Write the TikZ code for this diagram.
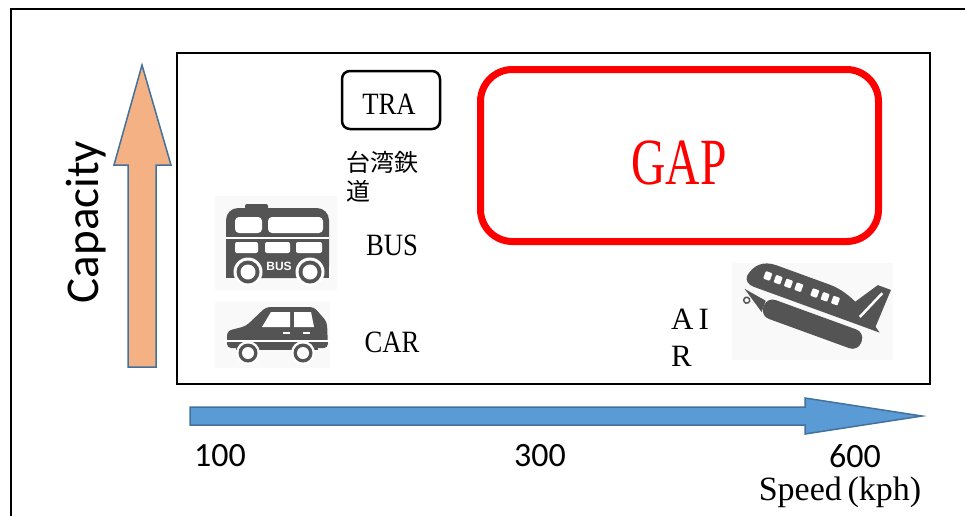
\documentclass[tikz,border=0pt]{standalone}
\usepackage{graphicx}
\usepackage{fontspec}
\setmainfont{Liberation Serif}
\newfontfamily\calibri{Carlito}
\newfontfamily\cjk{Noto Sans CJK JP}
\newfontfamily\iconsans{Liberation Sans}
\definecolor{capfill}{RGB}{244,177,131}
\definecolor{spdfill}{RGB}{91,155,213}
\definecolor{arredge}{RGB}{65,113,156}
\definecolor{icongray}{RGB}{84,84,84}
\definecolor{iconbg}{RGB}{249,249,249}
\definecolor{gapred}{RGB}{255,0,0}
% narrow latin letters
\newcommand{\mincho}[2][0.86]{\scalebox{#1}[1]{#2}}
\newcommand{\wheel}[2]{%
  \fill[white](#1,#2)circle(14.5);
  \fill[icongray](#1,#2)circle(11.5);
  \fill[white](#1,#2)circle(7.5);
}
\newcommand{\busicon}{%
  \fill[iconbg](215,196)rectangle(337,290);
  \fill[icongray,rounded corners=12](226,208)rectangle(329,278);
  \fill[icongray](226,240)rectangle(329,278);
  \fill[icongray,rounded corners=2](245,204)rectangle(268,211);
  \fill[white,rounded corners=4](235,217)rectangle(262,233);
  \fill[white,rounded corners=4](268,217)rectangle(323,233);
  \fill[white](226,237)rectangle(329,239);
  \fill[white,rounded corners=2](235,242)rectangle(258,253);
  \fill[white,rounded corners=2](265,242)rectangle(290,253);
  \fill[white,rounded corners=2](296,242)rectangle(322,253);
  \wheel{248}{272}
  \wheel{310}{272}
  \node[text=white,inner sep=0pt,font=\iconsans\bfseries\fontsize{12}{12}\selectfont] (busmark) at (279,266) {BUS};
}
\newcommand{\caricon}{%
  \fill[iconbg](215,302)rectangle(330,368);
  \fill[icongray,rounded corners=4](227,348)--(227,331)--(246,326)--(266,307)--(314,307)--(327,322)--(328,348)--cycle;
  \fill[white](262,327)--(271,312)--(290,312)--(290,327)--cycle;
  \fill[white](294,312)--(311,312)--(314,327)--(294,327)--cycle;
  \fill[white](283,332)rectangle(290,334);
  \fill[white](303,332)rectangle(310,334);
  \fill[white](225,340)rectangle(330,342);
  \fill[icongray](236,342)rectangle(318,350);
  \fill[white](248,353)circle(12);
  \fill[icongray](248,353)circle(9.5);
  \fill[white](248,353)circle(6);
  \fill[white](303,353)circle(12);
  \fill[icongray](303,353)circle(9.5);
  \fill[white](303,353)circle(6);
}
\newcommand{\planeicon}{%
  \fill[iconbg](732,263)rectangle(893,360);
  \begin{scope}[shift={(812,308)},rotate=-20]
    % body
    \fill[icongray](-72,-8) .. controls (-70,-20) and (-62,-28) .. (-48,-28) -- (8,-28)
      .. controls (32,-28) and (52,-14) .. (72,0) -- (-62,0) .. controls (-68,0) and (-72,-3) .. cycle;
    \foreach \wx in {-56,-45,-34,-23,-6,5,16}{%
      \fill[white,rounded corners=1](\wx,-19)rectangle(\wx+7,-11);
    }
    % fin
    \fill[icongray](34,-14)--(54,-44)--(68,-44)--(66,-2)--cycle;
    \draw[white,line width=2.5](48,-8)--(61,-38);
    % engine
    \fill[icongray,rounded corners=9](-46,5)rectangle(58,25);
    \fill[icongray](-46,9)--(-70,5)--(-46,21)--cycle;
    \draw[icongray,line width=1.5](-64,15)circle(3);
  \end{scope}
}
\begin{document}
\begin{tikzpicture}[x=1pt,y=-1pt,
  lbl/.style={inner sep=0pt,font=\fontsize{31}{31}\selectfont},
  num/.style={inner sep=0pt,font=\calibri\fontsize{34}{34}\selectfont}]
  \useasboundingbox(0,0)rectangle(965,515);
  % frames
  \draw[line width=2.5](11,530)--(11,9)--(980,9);
  \draw[line width=2](177,53)rectangle(930,384);
  % axes
  \fill[capfill,draw=arredge,line width=1.5](128,367)--(128,165)--(114,165)--(142,65)--(171,165)--(156,165)--(156,367)--cycle;
  \fill[spdfill,draw=arredge,line width=1.5](190,407)--(805,407)--(805,398)--(922,416)--(805,434)--(805,425)--(190,425)--cycle;
  \node[inner sep=0pt,rotate=90,font=\calibri\fontsize{47}{47}\selectfont] (capacity) at (86,222) {Capacity};
  \node[num] (v100) at (220,456) {100};
  \node[num] (v300) at (540,456) {300};
  \node[num] (v600) at (855,456) {600};
  \node[lbl,font=\fontsize{34}{34}\selectfont] (speed) at (840,492) {Speed\,(kph)};
  % boxes
  \node[draw,line width=2.5,rounded corners=8,minimum width=98,minimum height=58,inner sep=0pt] (tra) at (391,100) {};
  \node[lbl] (tratxt) at (389,104) {\mincho{TRA}};
  \node[anchor=north west,align=left,inner sep=0pt,font=\cjk\fontsize{24}{29}\selectfont] (tw) at (346,151) {台湾鉄\\道};
  \node[draw=gapred,line width=7,rounded corners=32,minimum width=398,minimum height=172,inner sep=0pt] (gap) at (679.5,155.5) {};
  \node[inner sep=0pt,text=gapred,font=\fontsize{66}{66}\selectfont] (gaptxt) at (679,163) {\mincho[0.72]{GAP}};
  % vehicles
  \busicon
  \caricon
  \planeicon
  \node[lbl] (bus) at (392,245) {\mincho{BUS}};
  \node[lbl] (car) at (392,342) {\mincho{CAR}};
  \node[lbl,anchor=north west,align=left,font=\fontsize{31}{37}\selectfont] (air) at (671,309) {A\,I\\R};
\end{tikzpicture}
\end{document}
